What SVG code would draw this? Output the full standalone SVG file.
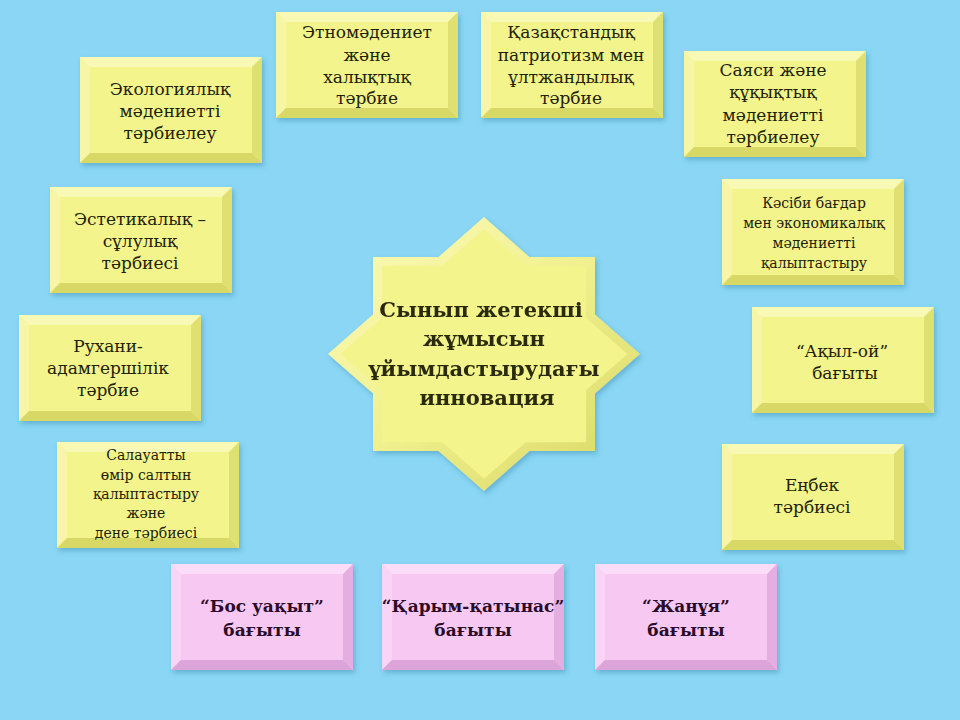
<svg xmlns="http://www.w3.org/2000/svg" xmlns:xlink="http://www.w3.org/1999/xlink" width="960" height="720" viewBox="0 0 960 720">
<style>
.t{font-family:"DejaVu Serif","Liberation Serif",serif;font-size:17px;fill:#222208;text-anchor:middle}
.s{font-size:14px}
.p{font-family:"DejaVu Serif","Liberation Serif",serif;font-size:17px;font-weight:bold;fill:#2a0c2a;text-anchor:middle}
.c{font-family:"DejaVu Serif","Liberation Serif",serif;font-size:21px;font-weight:bold;fill:#2b2b0c;text-anchor:middle}
.yf{fill:#f4f48c}.yt{fill:#f9f9b6}.yl{fill:#f6f6a6}.yr{fill:#e0e072}.yb{fill:#d8d866}
.pf{fill:#f6c8f2}.pt{fill:#fbdcf9}.pl{fill:#f8d4f5}.pr{fill:#e4aee0}.pb{fill:#dca4d8}
</style>
<defs>
<filter id="sh" x="-10%" y="-10%" width="125%" height="130%">
<feDropShadow dx="2" dy="3" stdDeviation="2.5" flood-color="#2f7fa0" flood-opacity="0.4"/>
</filter>
<g id="ybox">
<rect width="182" height="106" class="yf"/>
<polygon points="0,0 182,0 172,10 10,10" class="yt"/>
<polygon points="0,0 10,10 10,96 0,106" class="yl"/>
<polygon points="182,0 182,106 172,96 172,10" class="yr"/>
<polygon points="0,106 10,96 172,96 182,106" class="yb"/>
</g>
<g id="pbox">
<rect width="182" height="106" class="pf"/>
<polygon points="0,0 182,0 172,10 10,10" class="pt"/>
<polygon points="0,0 10,10 10,96 0,106" class="pl"/>
<polygon points="182,0 182,106 172,96 172,10" class="pr"/>
<polygon points="0,106 10,96 172,96 182,106" class="pb"/>
</g>
<linearGradient id="sg" x1="0" y1="0" x2="1" y2="1">
<stop offset="0" stop-color="#fbfbbc"/>
<stop offset="0.5" stop-color="#f0f08e"/>
<stop offset="1" stop-color="#d6d662"/>
</linearGradient>
</defs>
<rect width="960" height="720" fill="#8ad6f4"/>

<g id="center" filter="url(#sh)">
<polygon points="484,217 529.5,257 595,257 595,314.5 640,354 595,393.5 595,451 529.5,451 484,491 438.5,451 373,451 373,393.5 328,354 373,314.5 373,257 438.5,257" fill="url(#sg)"/>
<polygon transform="translate(484 354) scale(0.92 0.91) translate(-484 -354)" points="484,217 529.5,257 595,257 595,314.5 640,354 595,393.5 595,451 529.5,451 484,491 438.5,451 373,451 373,393.5 328,354 373,314.5 373,257 438.5,257" class="yf"/>
<text class="c"><tspan x="481" y="317">Сынып жетекші</tspan><tspan x="484" y="346">жұмысын</tspan><tspan x="484" y="376">ұйымдастырудағы</tspan><tspan x="487" y="405">инновация</tspan></text>
</g>

<g id="n1"><use xlink:href="#ybox" x="276" y="12" filter="url(#sh)"/>
<text class="t"><tspan x="367" y="38">Этномәдениет</tspan><tspan x="367" y="61">және</tspan><tspan x="367" y="83">халықтық</tspan><tspan x="367" y="104">тәрбие</tspan></text></g>
<g id="n2"><use xlink:href="#ybox" x="481" y="12" filter="url(#sh)"/>
<text class="t"><tspan x="571" y="38">Қазақстандық</tspan><tspan x="571" y="61">патриотизм мен</tspan><tspan x="571" y="83">ұлтжандылық</tspan><tspan x="571" y="104">тәрбие</tspan></text></g>
<g id="n3"><use xlink:href="#ybox" x="80" y="57" filter="url(#sh)"/>
<text class="t"><tspan x="170" y="95">Экологиялық</tspan><tspan x="170" y="117">мәдениетті</tspan><tspan x="170" y="139">тәрбиелеу</tspan></text></g>
<g id="n4"><use xlink:href="#ybox" x="684" y="51" filter="url(#sh)"/>
<text class="t"><tspan x="773" y="76">Саяси және</tspan><tspan x="773" y="98">құқықтық</tspan><tspan x="773" y="121">мәдениетті</tspan><tspan x="773" y="143">тәрбиелеу</tspan></text></g>
<g id="n5"><use xlink:href="#ybox" x="50" y="187" filter="url(#sh)"/>
<text class="t"><tspan x="140" y="225">Эстетикалық –</tspan><tspan x="140" y="247">сұлулық</tspan><tspan x="140" y="269">тәрбиесі</tspan></text></g>
<g id="n6"><use xlink:href="#ybox" x="722" y="179" filter="url(#sh)"/>
<text class="t s"><tspan x="814" y="208">Кәсіби бағдар</tspan><tspan x="814" y="228">мен экономикалық</tspan><tspan x="814" y="248">мәдениетті</tspan><tspan x="814" y="268">қалыптастыру</tspan></text></g>
<g id="n7"><use xlink:href="#ybox" x="19" y="315" filter="url(#sh)"/>
<text class="t"><tspan x="108" y="352">Рухани-</tspan><tspan x="108" y="374">адамгершілік</tspan><tspan x="108" y="396">тәрбие</tspan></text></g>
<g id="n8"><use xlink:href="#ybox" x="752" y="307" filter="url(#sh)"/>
<text class="t"><tspan x="842" y="357">“Ақыл-ой”</tspan><tspan x="845" y="379">бағыты</tspan></text></g>
<g id="n9"><use xlink:href="#ybox" x="57" y="442" filter="url(#sh)"/>
<text class="t s"><tspan x="146" y="460">Салауатты</tspan><tspan x="146" y="480">өмір салтын</tspan><tspan x="146" y="499">қалыптастыру</tspan><tspan x="146" y="518">және</tspan><tspan x="146" y="538">дене тәрбиесі</tspan></text></g>
<g id="n10"><use xlink:href="#ybox" x="722" y="444" filter="url(#sh)"/>
<text class="t"><tspan x="812" y="491">Еңбек</tspan><tspan x="812" y="513">тәрбиесі</tspan></text></g>
<g id="n11"><use xlink:href="#pbox" x="171" y="564" filter="url(#sh)"/>
<text class="p"><tspan x="262" y="612">“Бос уақыт”</tspan><tspan x="262" y="636">бағыты</tspan></text></g>
<g id="n12"><use xlink:href="#pbox" x="382" y="564" filter="url(#sh)"/>
<text class="p"><tspan x="473" y="612">“Қарым-қатынас”</tspan><tspan x="473" y="636">бағыты</tspan></text></g>
<g id="n13"><use xlink:href="#pbox" x="595" y="564" filter="url(#sh)"/>
<text class="p"><tspan x="686" y="612">“Жанұя”</tspan><tspan x="686" y="636">бағыты</tspan></text></g>
<g id="connectors"/>
</svg>
